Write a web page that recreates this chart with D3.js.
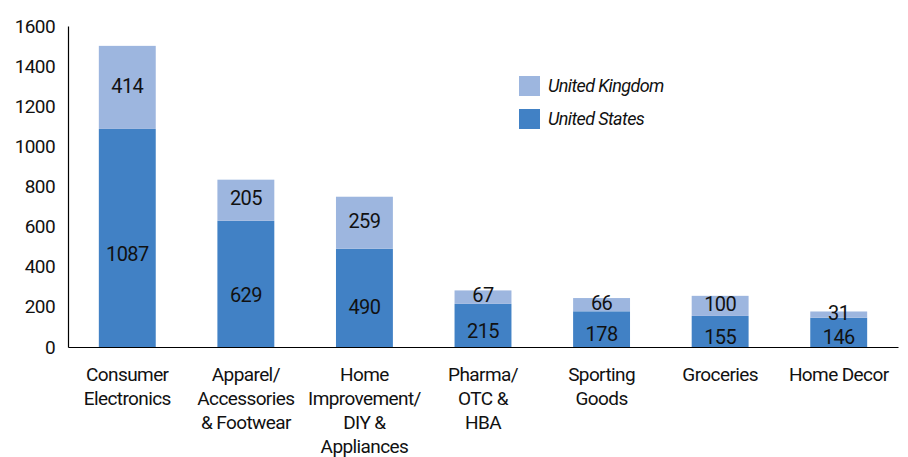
<!DOCTYPE html>
<html>
<head>
<meta charset="utf-8">
<script src="https://cdn.jsdelivr.net/npm/d3@7"></script>
<style>
  body { margin: 0; background: #fff; }
  svg text { font-family: Roboto, 'Liberation Sans', sans-serif; fill: #111; letter-spacing: -0.6px; }
</style>
</head>
<body>
<div id="chart"></div>
<script>
const categories = [
  ['Consumer', 'Electronics'],
  ['Apparel/', 'Accessories', '& Footwear'],
  ['Home', 'Improvement/', 'DIY &', 'Appliances'],
  ['Pharma/', 'OTC &', 'HBA'],
  ['Sporting', 'Goods'],
  ['Groceries'],
  ['Home Decor']
]
const usValues = [1087, 629, 490, 215, 178, 155, 146]
const ukValues = [414, 205, 259, 67, 66, 100, 31]
const yTicks = [0, 200, 400, 600, 800, 1000, 1200, 1400, 1600]
const seriesNames = ['United Kingdom', 'United States']

const colors = { us: '#4181c5', uk: '#9db6df' }

const W = 908, H = 457
const margin = { top: 26, right: 10, bottom: 110, left: 68 }
const height = H - margin.top - margin.bottom

const svg = d3.select('#chart').append('svg')
  .attr('width', W)
  .attr('height', H)

const x = d3.scaleBand()
  .domain(d3.range(categories.length))
  .range([margin.left, 898])
  .paddingInner(0.52)
  .paddingOuter(0.26)

const y = d3.scaleLinear()
  .domain([0, 1600])
  .range([margin.top + height, margin.top])

// y axis
const yAxis = d3.axisLeft(y).tickValues(yTicks).tickSize(0).tickPadding(13).tickFormat(d3.format('d'))
const yG = svg.append('g')
  .attr('transform', 'translate(' + margin.left + ',0)')
  .call(yAxis)
yG.select('.domain').attr('stroke', '#000').attr('stroke-width', 1.2)
yG.selectAll('text').style('font-size', '19px').style('font-family', null)

const data = categories.map((c, i) => ({ i, us: usValues[i], uk: ukValues[i] }))

const bars = svg.append('g').selectAll('g')
  .data(data)
  .enter().append('g')

bars.append('rect')
  .attr('x', d => x(d.i))
  .attr('width', x.bandwidth())
  .attr('y', d => y(d.us))
  .attr('height', d => y(0) - y(d.us))
  .attr('fill', colors.us)

bars.append('rect')
  .attr('x', d => x(d.i))
  .attr('width', x.bandwidth())
  .attr('y', d => y(d.us + d.uk))
  .attr('height', d => y(d.us) - y(d.us + d.uk))
  .attr('fill', colors.uk)

// value labels (US sits a little below the middle of its segment)
bars.append('text')
  .attr('x', d => x(d.i) + x.bandwidth() / 2)
  .attr('y', d => y(d.us) + (y(0) - y(d.us)) * 0.56 + 3)
  .attr('dy', '0.36em')
  .attr('text-anchor', 'middle')
  .style('font-size', '20px')
  .text(d => d.us)

bars.append('text')
  .attr('x', d => x(d.i) + x.bandwidth() / 2)
  .attr('y', d => (y(d.us) + y(d.us + d.uk)) / 2 - 2)
  .attr('dy', '0.36em')
  .attr('text-anchor', 'middle')
  .style('font-size', '20px')
  .text(d => d.uk)

// x axis
const xAxis = d3.axisBottom(x).tickSize(0).tickFormat('')
const xG = svg.append('g')
  .attr('transform', 'translate(0,' + y(0) + ')')
  .call(xAxis)
xG.select('.domain').attr('stroke', '#000').attr('stroke-width', 1.2)

const labels = svg.append('g').selectAll('text')
  .data(categories)
  .enter().append('text')
  .attr('x', (d, i) => x(i) + x.bandwidth() / 2)
  .attr('y', y(0) + 34)
  .attr('text-anchor', 'middle')
  .style('font-size', '19px')

labels.selectAll('tspan')
  .data(d => d)
  .enter().append('tspan')
  .attr('x', function() { return this.parentNode.getAttribute('x') })
  .attr('dy', (d, i) => i === 0 ? 0 : 24)
  .text(d => d)

// legend
const legend = svg.append('g')
  .selectAll('g')
  .data(seriesNames)
  .enter().append('g')
  .attr('transform', (d, i) => 'translate(519,' + (76 + i * 33) + ')')

legend.append('rect')
  .attr('width', 21)
  .attr('height', 20)
  .attr('fill', (d, i) => i === 0 ? colors.uk : colors.us)

legend.append('text')
  .attr('x', 29)
  .attr('y', 10)
  .attr('dy', '0.36em')
  .style('font-size', '18px')
  .style('font-style', 'italic')
  .text(d => d)
</script>
</body>
</html>
